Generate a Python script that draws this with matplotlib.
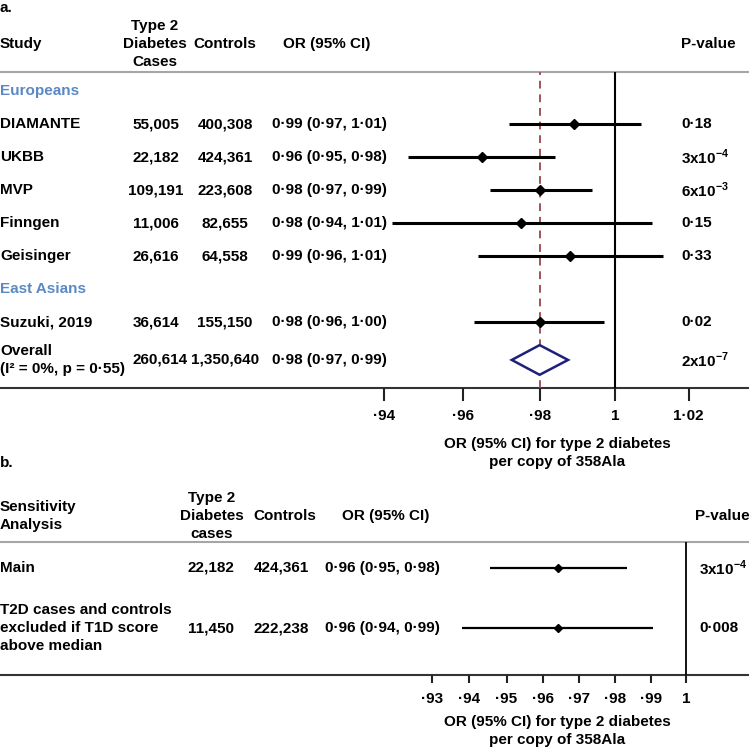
import matplotlib.pyplot as plt
from matplotlib.transforms import blended_transform_factory
from matplotlib.ticker import FixedLocator, FixedFormatter, NullLocator

plt.rcParams['font.family'] = ['Liberation Sans', 'DejaVu Sans']
plt.rcParams['font.weight'] = 'bold'
plt.rcParams['font.size'] = 11
plt.rcParams['mathtext.fontset'] = 'custom'
plt.rcParams['mathtext.rm'] = 'Liberation Sans:bold'
plt.rcParams['mathtext.bf'] = 'Liberation Sans:bold'

# ---- panel a data ----
groups = ['Europeans', 'East Asians']
group_rows = [1, 7]
studies = ['DIAMANTE', 'UKBB', 'MVP', 'Finngen', 'Geisinger', 'Suzuki, 2019']
study_rows = [2, 3, 4, 5, 6, 8]
cases = ['55,005', '22,182', '109,191', '11,006', '26,616', '36,614']
controls = ['400,308', '424,361', '223,608', '82,655', '64,558', '155,150']
or_text = ['0·99 (0·97, 1·01)', '0·96 (0·95, 0·98)', '0·98 (0·97, 0·99)',
           '0·98 (0·94, 1·01)', '0·99 (0·96, 1·01)', '0·98 (0·96, 1·00)']
or_est = [0.989, 0.965, 0.980, 0.975, 0.988, 0.980]
ci_lo = [0.972, 0.946, 0.967, 0.942, 0.964, 0.963]
ci_hi = [1.007, 0.984, 0.994, 1.010, 1.013, 0.997]
pvals = ['0·18', '3x10$^{-4}$', '6x10$^{-3}$', '0·15', '0·33', '0·02']

overall_label = 'Overall\n(I² = 0%, p = 0·55)'
overall_row = 9.15
overall_cases = '260,614'
overall_controls = '1,350,640'
overall_text = '0·98 (0·97, 0·99)'
overall_est, overall_lo, overall_hi = 0.980, 0.9727, 0.9875
overall_p = '2x10$^{-7}$'

ticks_a = [0.94, 0.96, 0.98, 1.0, 1.02]
ticklabels_a = ['·94', '·96', '·98', '1', '1·02']

# ---- panel b data ----
sens_labels = ['Main', 'T2D cases and controls\nexcluded if T1D score\nabove median']
sens_rows = [1, 2]
sens_cases = ['22,182', '11,450']
sens_controls = ['424,361', '222,238']
sens_text = ['0·96 (0·95, 0·98)', '0·96 (0·94, 0·99)']
sens_est = [0.964, 0.964]
sens_lo = [0.9455, 0.938]
sens_hi = [0.9833, 0.9906]
sens_p = ['3x10$^{-4}$', '0·008']

ticks_b = [0.93, 0.94, 0.95, 0.96, 0.97, 0.98, 0.99, 1.0]
ticklabels_b = ['·93', '·94', '·95', '·96', '·97', '·98', '·99', '1']

xlabel = 'OR (95% CI) for type 2 diabetes\nper copy of 358Ala'
blue = '#5a89c4'
LS = 1.4

W, H = 749, 748
fig = plt.figure(figsize=(W / 100, H / 100), dpi=100)
ov = fig.add_axes([0, 0, 1, 1])
ov.set_xlim(0, W)
ov.set_ylim(H, 0)
ov.axis('off')


def forest_axes(left, right, top, bottom, xlim, ylim, ticks, labels, tlen):
    ax = fig.add_axes([left / W, 1 - bottom / H, (right - left) / W, (bottom - top) / H])
    ax.set_xscale('log')
    ax.set_xlim(*xlim)
    ax.set_ylim(*ylim)
    ax.patch.set_alpha(0)
    for s in ax.spines.values():
        s.set_visible(False)
    ax.xaxis.set_major_locator(FixedLocator(ticks))
    ax.xaxis.set_major_formatter(FixedFormatter(labels))
    ax.xaxis.set_minor_locator(NullLocator())
    ax.set_yticks([])
    ax.tick_params(axis='x', length=tlen, width=1.5, pad=6, labelsize=11, color='#222222')
    return ax


# ================= panel a =================
ax = forest_axes(380, 700, 72, 388, (0.9389, 1.0231), (10, 0.424), ticks_a, ticklabels_a, 9)
tr = blended_transform_factory(ov.transData, ax.transData)

ov.text(0, 8, 'a.', ha='left', va='center')
ov.text(0, 44, 'Study', ha='left', va='center')
ov.text(155, 44, 'Type 2\nDiabetes\nCases', ha='center', va='center', linespacing=LS)
ov.text(225, 44, 'Controls', ha='center', va='center')
ov.text(327, 44, 'OR (95% CI)', ha='center', va='center')
ov.text(681, 44, 'P-value', ha='left', va='center')
ov.axhline(72, color='#a6a6a6', lw=1.5)
ov.axhline(388, color='#333333', lw=1.5)

for g, r in zip(groups, group_rows):
    ov.text(0, r, g, transform=tr, ha='left', va='center', color=blue)

for i, r in enumerate(study_rows):
    ov.text(0, r, studies[i], transform=tr, ha='left', va='center')
    ov.text(156, r, cases[i], transform=tr, ha='center', va='center')
    ov.text(225, r, controls[i], transform=tr, ha='center', va='center')
    ov.text(329, r, or_text[i], transform=tr, ha='center', va='center')
    ov.text(681, r, pvals[i], transform=tr, ha='left', va='center')

ov.text(0, overall_row, overall_label, transform=tr, ha='left', va='center', linespacing=LS)
ov.text(160, overall_row, overall_cases, transform=tr, ha='center', va='center')
ov.text(225, overall_row, overall_controls, transform=tr, ha='center', va='center')
ov.text(329, overall_row, overall_text, transform=tr, ha='center', va='center')
ov.text(681, overall_row, overall_p, transform=tr, ha='left', va='center')

ax.axvline(1.0, color='black', lw=1.5)
ax.axvline(overall_est, color='#a0525a', lw=1.4, ls=(0, (4, 3)))
ax.hlines(study_rows, ci_lo, ci_hi, color='black', lw=2.2)
ax.plot(or_est, study_rows, 'D', color='black', ms=5)
dh = 0.45
ax.fill([overall_lo, overall_est, overall_hi, overall_est],
        [overall_row, overall_row - dh, overall_row, overall_row + dh],
        facecolor='white', edgecolor='#1f1f7a', lw=1.8, zorder=3)

ov.text(557, 453, xlabel, ha='center', va='center', linespacing=LS)

# ================= panel b =================
bx = forest_axes(420, 749, 542, 675, (0.9268, 1.01816), (2.783, 0.567), ticks_b, ticklabels_b, 6)
trb = blended_transform_factory(ov.transData, bx.transData)

ov.text(0, 463, 'b.', ha='left', va='center')
ov.text(0, 516, 'Sensitivity\nAnalysis', ha='left', va='center', linespacing=LS)
ov.text(212, 516, 'Type 2\nDiabetes\ncases', ha='center', va='center', linespacing=LS)
ov.text(285, 516, 'Controls', ha='center', va='center')
ov.text(386, 516, 'OR (95% CI)', ha='center', va='center')
ov.text(695, 516, 'P-value', ha='left', va='center')
ov.axhline(542, color='#a6a6a6', lw=1.5)
ov.axhline(675, color='#333333', lw=1.5)

for i, r in enumerate(sens_rows):
    ov.text(0, r, sens_labels[i], transform=trb, ha='left', va='center', linespacing=LS)
    ov.text(211, r, sens_cases[i], transform=trb, ha='center', va='center')
    ov.text(281, r, sens_controls[i], transform=trb, ha='center', va='center')
    ov.text(382, r, sens_text[i], transform=trb, ha='center', va='center')
    ov.text(699, r, sens_p[i], transform=trb, ha='left', va='center')

bx.axvline(1.0, color='black', lw=1.3)
bx.hlines(sens_rows, sens_lo, sens_hi, color='black', lw=1.6)
bx.plot(sens_est, sens_rows, 'D', color='black', ms=4)

ov.text(557, 731, xlabel, ha='center', va='center', linespacing=LS)

fig.savefig('out.png', dpi=100)
